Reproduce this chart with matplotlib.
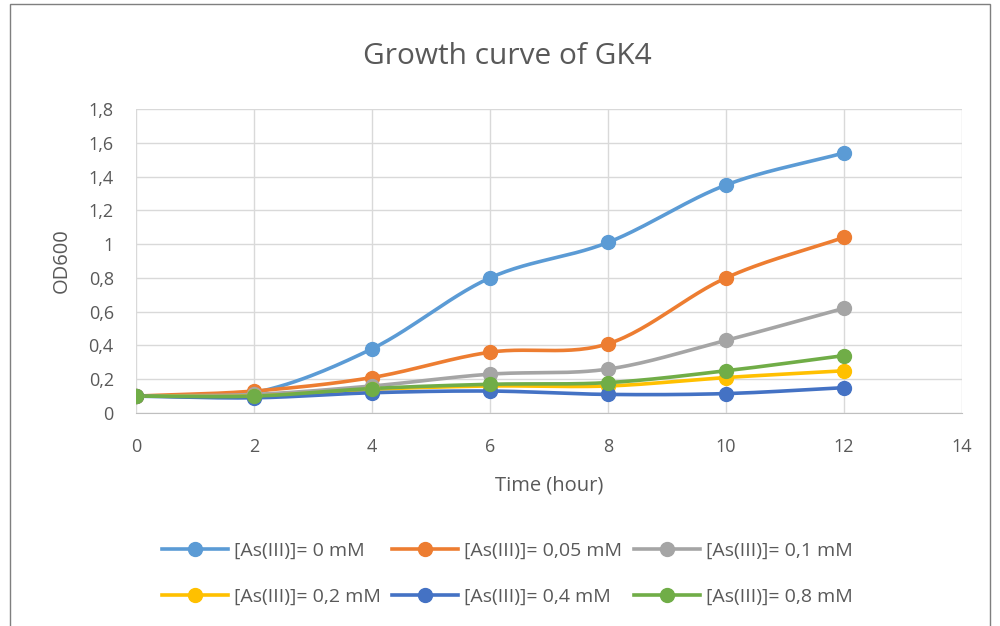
import numpy as np
import matplotlib
matplotlib.use("Agg")
import matplotlib.pyplot as plt
from matplotlib.patches import Rectangle
from matplotlib.lines import Line2D

plt.rcParams['font.family'] = ['Open Sans', 'DejaVu Sans']

time_h = [0, 2, 4, 6, 8, 10, 12]
labels = ["[As(III)]= 0 mM", "[As(III)]= 0,05 mM", "[As(III)]= 0,1 mM",
          "[As(III)]= 0,2 mM", "[As(III)]= 0,4 mM", "[As(III)]= 0,8 mM"]
od_0 = [0.10, 0.12, 0.38, 0.80, 1.01, 1.35, 1.54]
od_005 = [0.10, 0.13, 0.21, 0.36, 0.41, 0.80, 1.04]
od_01 = [0.10, 0.11, 0.16, 0.23, 0.26, 0.43, 0.62]
od_02 = [0.10, 0.10, 0.14, 0.16, 0.16, 0.21, 0.25]
od_04 = [0.10, 0.09, 0.12, 0.13, 0.11, 0.115, 0.15]
od_08 = [0.10, 0.10, 0.145, 0.17, 0.18, 0.25, 0.34]
series = [od_0, od_005, od_01, od_02, od_04, od_08]
colors = ["#5B9BD5", "#ED7D31", "#A5A5A5", "#FFC000", "#4472C4", "#70AD47"]
yticks = [0, 0.2, 0.4, 0.6, 0.8, 1, 1.2, 1.4, 1.6, 1.8]
ytick_labels = ["0", "0,2", "0,4", "0,6", "0,8", "1", "1,2", "1,4", "1,6", "1,8"]
xticks = [0, 2, 4, 6, 8, 10, 12, 14]


def catmull_rom(x, y, n=30):
    x = np.asarray(x, float); y = np.asarray(y, float)
    px = np.concatenate([[2 * x[0] - x[1]], x, [2 * x[-1] - x[-2]]])
    py = np.concatenate([[2 * y[0] - y[1]], y, [2 * y[-1] - y[-2]]])
    xs, ys = [], []
    t = np.linspace(0, 1, n)
    for i in range(1, len(px) - 2):
        for p, out in ((px, xs), (py, ys)):
            p0, p1, p2, p3 = p[i - 1], p[i], p[i + 1], p[i + 2]
            out.append(0.5 * ((2 * p1) + (-p0 + p2) * t +
                              (2 * p0 - 5 * p1 + 4 * p2 - p3) * t ** 2 +
                              (-p0 + 3 * p1 - 3 * p2 + p3) * t ** 3))
    return np.concatenate(xs), np.concatenate(ys)


fig = plt.figure(figsize=(10, 6.26), dpi=100)
fig.patches.append(Rectangle((0.010, -0.01), 0.980, 1.003, transform=fig.transFigure,
                             fill=False, edgecolor="#7f7f7f", linewidth=1.0))
ax = fig.add_axes([0.136, 1 - 413 / 626, 0.826, (413 - 109) / 626])

handles = []
for vals, c, lab in zip(series, colors, labels):
    sx, sy = catmull_rom(time_h, vals)
    ax.plot(sx, sy, color=c, linewidth=2.6, solid_capstyle='round', zorder=3)
    ax.plot(time_h, vals, 'o', color=c, markersize=10, zorder=4)
    handles.append(Line2D([], [], color=c, linewidth=2.6, marker='o', markersize=10))

ax.set_xlim(0, 14)
ax.set_ylim(0, 1.8)
ax.set_xticks(xticks)
ax.set_xticklabels([str(v) for v in xticks])
ax.set_yticks(yticks)
ax.set_yticklabels(ytick_labels)
ax.grid(True, color="#D9D9D9", linewidth=1)
ax.set_axisbelow(True)
for s in ["top", "right", "left"]:
    ax.spines[s].set_visible(False)
ax.spines["bottom"].set_color("#BFBFBF")
ax.tick_params(axis="both", length=0, labelsize=13, colors="#595959")
ax.tick_params(axis="x", pad=18)
ax.tick_params(axis="y", pad=16)
ax.set_xlabel("Time (hour)", fontsize=14.5, color="#595959", labelpad=14)
ax.set_ylabel("OD600", fontsize=14.5, color="#595959", labelpad=12)
fig.text(0.507, 1 - 57 / 626, "Growth curve of GK4", fontsize=21.5,
         color="#595959", ha="center", va="center")

order = [0, 3, 1, 4, 2, 5]
fig.legend([handles[i] for i in order], [labels[i] for i in order], ncol=3,
           loc="center", bbox_to_anchor=(0.507, 0.083), frameon=False,
           fontsize=14, labelcolor="#595959", handlelength=3.4,
           columnspacing=0.6, handletextpad=0.3, labelspacing=1.45)

fig.savefig("out.png", dpi=100)
